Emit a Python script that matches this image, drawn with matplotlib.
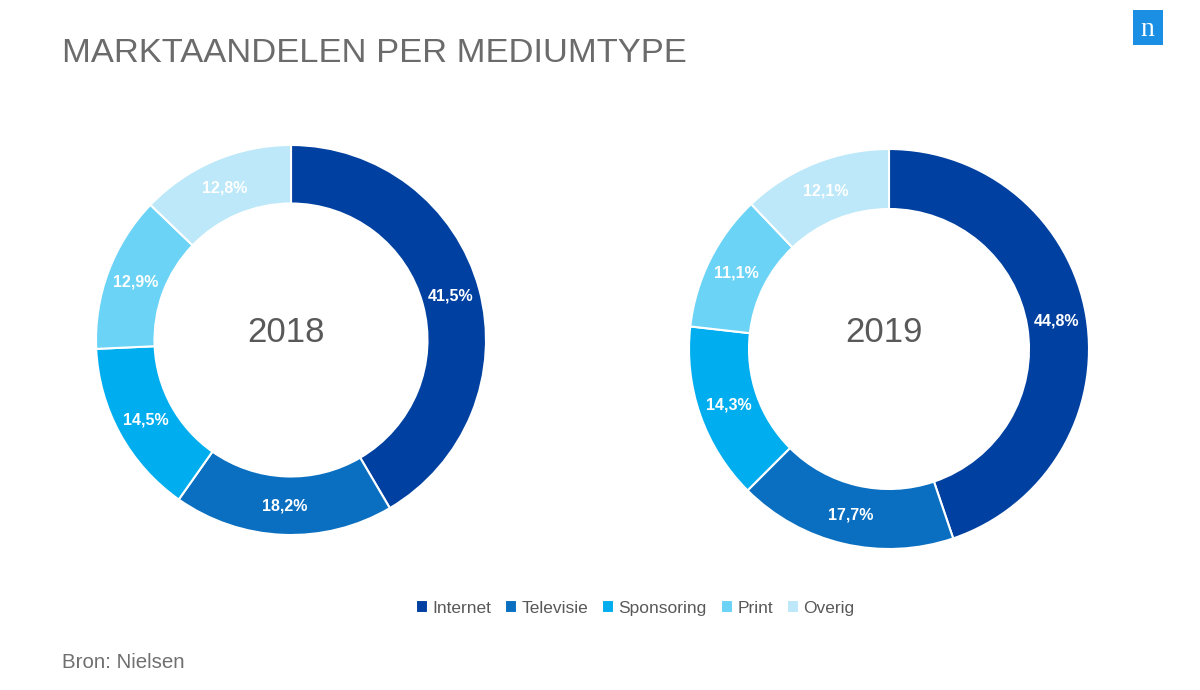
import matplotlib
matplotlib.use("Agg")
import numpy as np
import matplotlib.pyplot as plt
from matplotlib.patches import Rectangle

plt.rcParams['font.family'] = ['Liberation Sans', 'DejaVu Sans']

categories = ["Internet", "Televisie", "Sponsoring", "Print", "Overig"]
share_2018 = [41.5, 18.2, 14.5, 12.9, 12.8]
share_2019 = [44.8, 17.7, 14.3, 11.1, 12.1]
years = ["2018", "2019"]
colors = ["#0040A0", "#0A6FC0", "#00AEEF", "#6BD3F6", "#BCE8F9"]

W, H = 1200, 690
fig = plt.figure(figsize=(12, 6.9), dpi=100)
fig.patch.set_facecolor("white")


def donut(cx, cy, r, values):
    ax = fig.add_axes([(cx - r) / W, 1 - (cy + r) / H, 2 * r / W, 2 * r / H])
    wedges, _ = ax.pie(values, colors=colors, startangle=90, counterclock=False,
                       radius=1.0, wedgeprops=dict(width=0.30, edgecolor="white", linewidth=1.5))
    cum = 0
    for v in values:
        mid = 90 - (cum + v / 2) * 3.6
        cum += v
        rr = 0.85
        ax.text(rr * np.cos(np.radians(mid)), rr * np.sin(np.radians(mid)),
                f"{v:.1f}%".replace(".", ","), ha="center", va="center",
                color="white", fontsize=11.5, fontweight="bold")
    ax.set_xlim(-1, 1)
    ax.set_ylim(-1, 1)
    ax.set_aspect("equal")
    ax.axis("off")
    return wedges


wedges = donut(291, 340, 195, share_2018)
donut(889, 349, 200, share_2019)

fig.text(286 / W, 1 - 333 / H, years[0], ha="center", va="center", fontsize=25, color="#595959")
fig.text(884 / W, 1 - 333 / H, years[1], ha="center", va="center", fontsize=25, color="#595959")

fig.text(62 / W, 1 - 53 / H, "MARKTAANDELEN PER MEDIUMTYPE", fontsize=24.8,
         color="#6B6B6B", va="center", ha="left")
fig.text(62 / W, 1 - 663 / H, "Bron: Nielsen", fontsize=14.8, color="#707070",
         va="center", ha="left")

leg = fig.legend(wedges, categories, loc="center", bbox_to_anchor=(635 / W, 1 - 608 / H),
                 ncol=5, frameon=False, fontsize=12.5, handlelength=0.7, handleheight=0.7,
                 handletextpad=0.25, columnspacing=0.8, labelcolor="#595959")

# logo
fig.patches.append(Rectangle((1133 / W, 1 - 45 / H), 30 / W, 35 / H,
                             transform=fig.transFigure, facecolor="#1A8FE3", edgecolor="none"))
fig.text(1147 / W, 1 - 29 / H, "n", fontsize=20, color="white", family="Liberation Serif",
         ha="center", va="center")

fig.savefig("out.png", dpi=100, facecolor="white")
